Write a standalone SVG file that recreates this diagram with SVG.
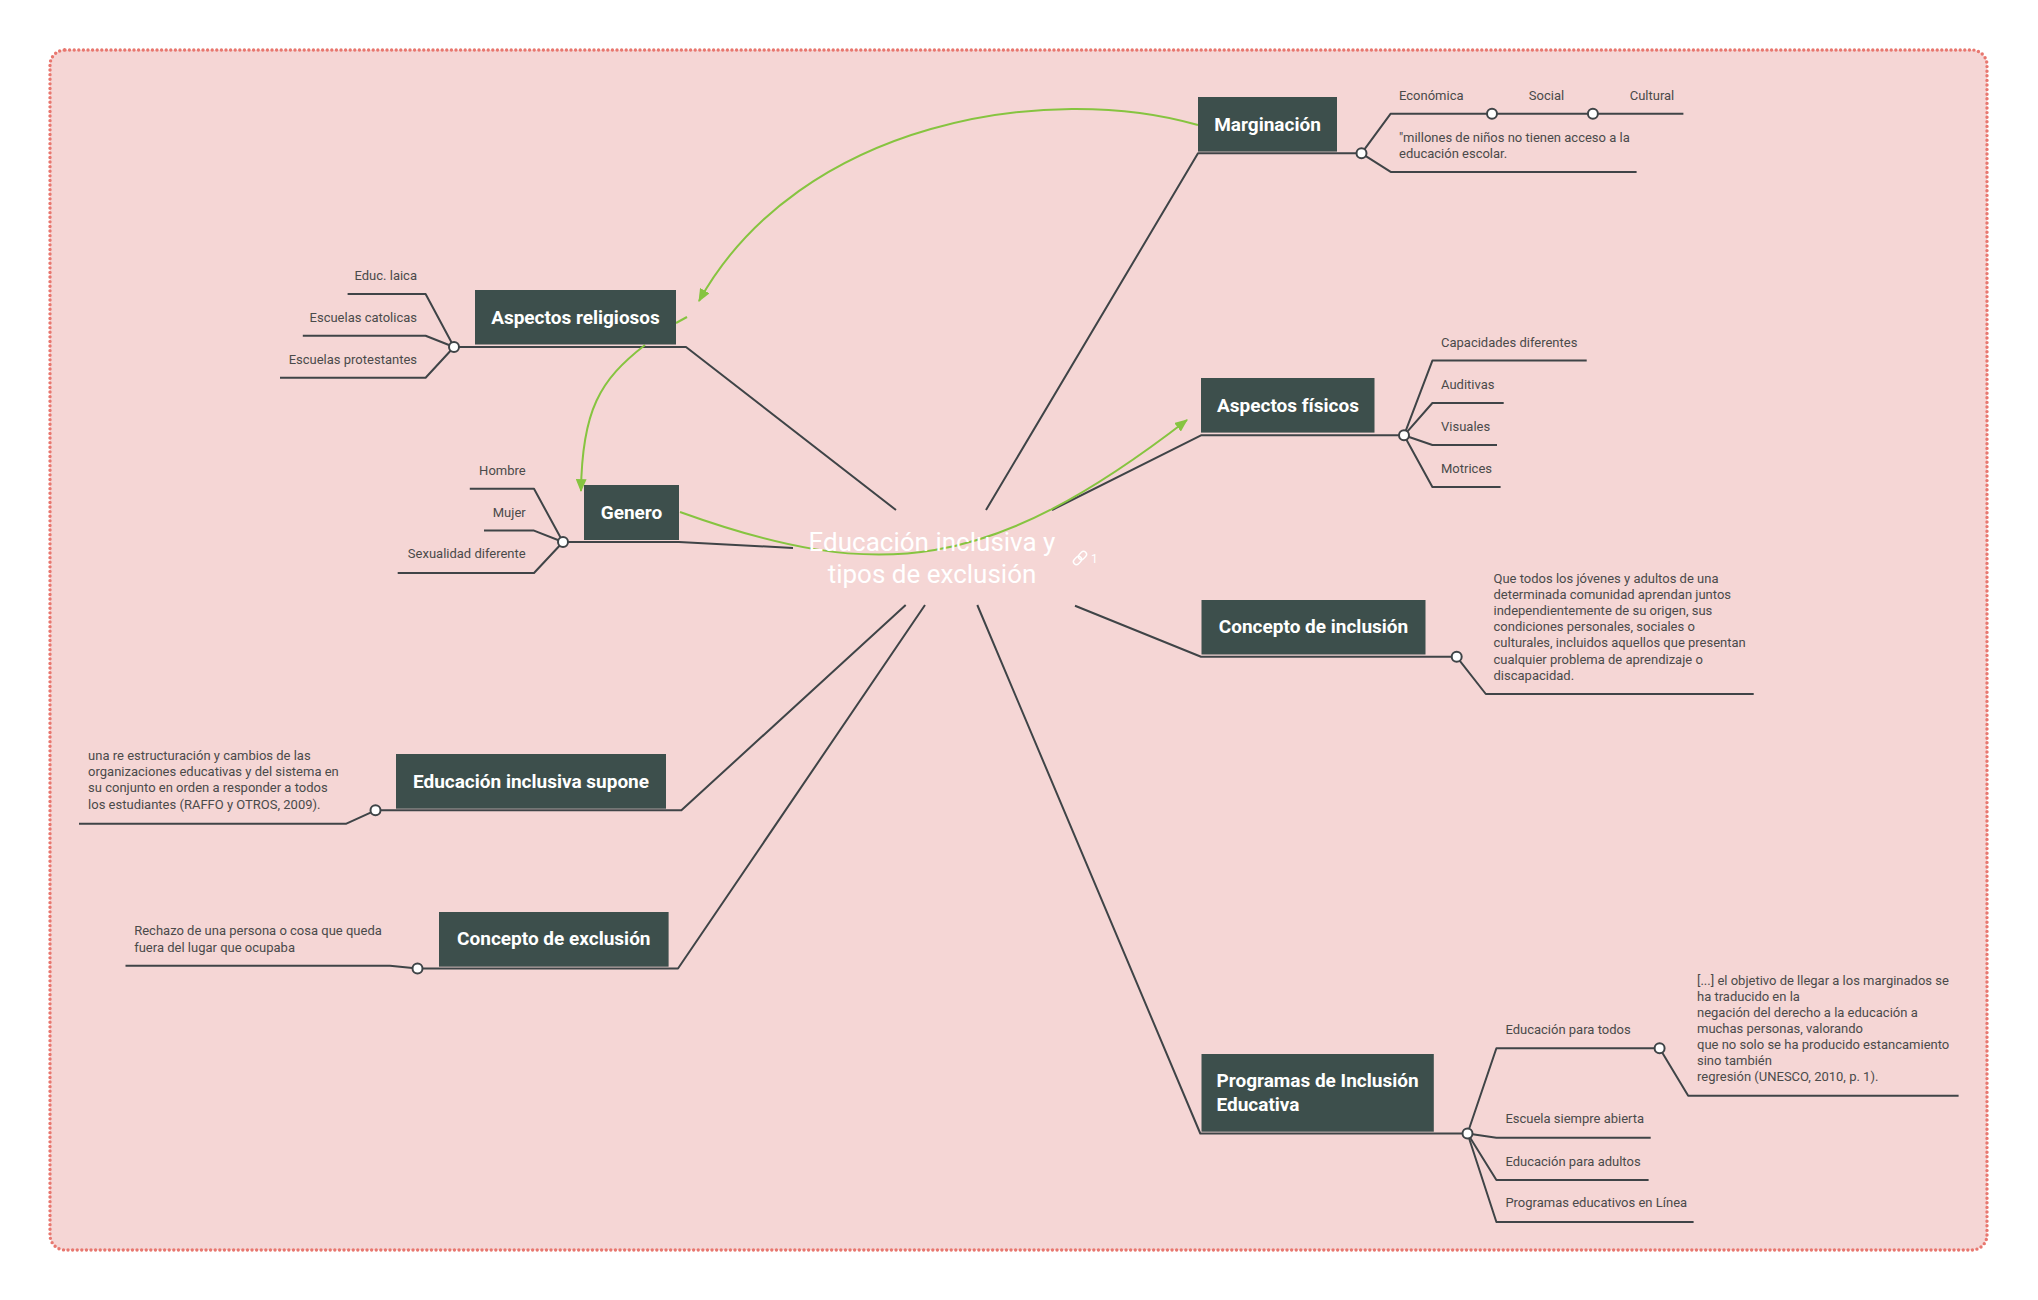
<svg xmlns="http://www.w3.org/2000/svg" width="2038" height="1300" viewBox="0 0 2038 1300">
<defs>
<style>
.bg{fill:#f5d6d5;stroke:#e8776f;stroke-width:3.4;stroke-dasharray:0 4.6;stroke-linecap:round}
.box{fill:#3d4f4c}
.nt{font-family:Roboto,"Liberation Sans",sans-serif;font-weight:bold;font-size:19px;fill:#ffffff}
.lt{font-family:Roboto,"Liberation Sans",sans-serif;font-size:13px;fill:#4a4a4a}
.ct{font-family:Roboto,"Liberation Sans",sans-serif;font-size:26px;fill:#ffffff}
.ln{fill:none;stroke:#3f4447;stroke-width:2;stroke-linejoin:round}
.dot{fill:#ffffff;stroke:#3f4447;stroke-width:2}
.rel{fill:none;stroke:#86c440;stroke-width:2}
</style>
<marker id="arr" viewBox="0 0 12 10" refX="11" refY="5" markerWidth="13" markerHeight="11" markerUnits="userSpaceOnUse" orient="auto">
<path d="M0,0 L12,5 L0,10 z" fill="#86c440"/>
</marker>
</defs>
<rect class="bg" x="50" y="50" width="1937" height="1200" rx="15"/>

<g id="connectors">
<path class="ln" d="M896,510 L686,347 L454,347"/>
<path class="ln" d="M793,548 L679,542 L563,542"/>
<path class="ln" d="M986,510 L1198,153.3 L1361.5,153.3"/>
<path class="ln" d="M1052,510 L1201,435.3 L1404,435.3"/>
<path class="ln" d="M1075,605.7 L1201,656.8 L1456.7,656.8"/>
<path class="ln" d="M977.3,605 L1200.3,1133.5 L1467.5,1133.5"/>
<path class="ln" d="M905.7,605 L681.4,810.3 L375.5,810.3"/>
<path class="ln" d="M925,605 L678,968.5 L417.5,968.5"/>

<path class="ln" d="M454,347 L425.6,294 L347.6,294"/>
<path class="ln" d="M454,347 L425.6,335.8 L302.8,335.8"/>
<path class="ln" d="M454,347 L425.6,377.7 L280,377.7"/>

<path class="ln" d="M563,542 L534,488.8 L469.8,488.8"/>
<path class="ln" d="M563,542 L534,530.6 L484,530.6"/>
<path class="ln" d="M563,542 L534,573 L397.7,573"/>

<path class="ln" d="M1361.5,153.3 L1390.7,113.7 L1683.4,113.7"/>
<path class="ln" d="M1361.5,153.3 L1390.7,171.9 L1636.6,171.9"/>

<path class="ln" d="M1404,435.3 L1432.4,360.6 L1586.7,360.6"/>
<path class="ln" d="M1404,435.3 L1432.4,403 L1503.7,403"/>
<path class="ln" d="M1404,435.3 L1432.4,445 L1497,445"/>
<path class="ln" d="M1404,435.3 L1432.4,487 L1500.6,487"/>

<path class="ln" d="M1456.7,656.8 L1485.8,694 L1753.7,694"/>

<path class="ln" d="M1467.5,1133.5 L1496.4,1048.3 L1659.6,1048.3"/>
<path class="ln" d="M1659.6,1048.3 L1688.2,1095.7 L1958.6,1095.7"/>
<path class="ln" d="M1467.5,1133.5 L1496.4,1137.7 L1650.7,1137.7"/>
<path class="ln" d="M1467.5,1133.5 L1496.4,1180 L1648.6,1180"/>
<path class="ln" d="M1467.5,1133.5 L1496.4,1222 L1693.6,1222"/>

<path class="ln" d="M375.5,810.3 L346.4,823.7 L79,823.7"/>
<path class="ln" d="M417.5,968.5 L390,965.7 L125.5,965.7"/>

<circle class="dot" cx="454" cy="347" r="5"/>
<circle class="dot" cx="563" cy="542" r="5"/>
<circle class="dot" cx="1361.5" cy="153.3" r="5"/>
<circle class="dot" cx="1492" cy="113.7" r="5"/>
<circle class="dot" cx="1592.9" cy="113.7" r="5"/>
<circle class="dot" cx="1404" cy="435.3" r="5"/>
<circle class="dot" cx="1456.7" cy="656.8" r="5"/>
<circle class="dot" cx="1467.5" cy="1133.5" r="5"/>
<circle class="dot" cx="1659.6" cy="1048.3" r="5"/>
<circle class="dot" cx="375.5" cy="810.3" r="5"/>
<circle class="dot" cx="417.5" cy="968.5" r="5"/>

<path class="rel" d="M1198,125 C1050,82 800,120 699,301" marker-end="url(#arr)"/>
<path class="rel" d="M676,323 L687,317"/>
<path class="rel" d="M645,345 C600,380 582,410 581,491" marker-end="url(#arr)"/>
<path class="rel" d="M680,512 C880,584 990,572 1187,420" marker-end="url(#arr)"/>
</g>

<g id="center">
<text class="ct" x="932" y="551" text-anchor="middle">Educación inclusiva y</text>
<text class="ct" x="932" y="583" text-anchor="middle">tipos de exclusión</text>
<g fill="none" stroke="#ffffff" stroke-width="1.4" transform="rotate(-45 1080 558)">
<rect x="1072" y="555" width="9" height="6" rx="3"/>
<rect x="1079" y="555" width="9" height="6" rx="3"/>
</g>
<text x="1091" y="563" font-family="Roboto,'Liberation Sans',sans-serif" font-size="12" fill="#ffffff">1</text>
</g>

<g id="n-religiosos">
<rect class="box" x="475" y="290" width="201" height="54.5"/>
<text class="nt" x="575.5" y="324" text-anchor="middle">Aspectos religiosos</text>
<text class="lt" x="417" y="280" text-anchor="end">Educ. laica</text>
<text class="lt" x="417" y="321.7" text-anchor="end">Escuelas catolicas</text>
<text class="lt" x="417" y="363.6" text-anchor="end">Escuelas protestantes</text>
</g>

<g id="n-genero">
<rect class="box" x="584" y="485" width="95" height="55"/>
<text class="nt" x="631.5" y="519" text-anchor="middle">Genero</text>
<text class="lt" x="525.7" y="474.7" text-anchor="end">Hombre</text>
<text class="lt" x="525.7" y="516.5" text-anchor="end">Mujer</text>
<text class="lt" x="525.7" y="558.4" text-anchor="end">Sexualidad diferente</text>
</g>

<g id="n-marginacion">
<rect class="box" x="1198" y="97" width="139" height="54.6"/>
<text class="nt" x="1267.5" y="131" text-anchor="middle">Marginación</text>
<text class="lt" x="1399" y="100.3">Económica</text>
<text class="lt" x="1528.8" y="100.3">Social</text>
<text class="lt" x="1629.7" y="100.3">Cultural</text>
<text class="lt" x="1399" y="142">"millones de niños no tienen acceso a la</text>
<text class="lt" x="1399" y="157.8">educación escolar.</text>
</g>

<g id="n-fisicos">
<rect class="box" x="1201" y="378" width="173.5" height="54.6"/>
<text class="nt" x="1288" y="412" text-anchor="middle">Aspectos físicos</text>
<text class="lt" x="1441" y="346.8">Capacidades diferentes</text>
<text class="lt" x="1441" y="388.9">Auditivas</text>
<text class="lt" x="1441" y="430.9">Visuales</text>
<text class="lt" x="1441" y="472.9">Motrices</text>
</g>

<g id="n-inclusion">
<rect class="box" x="1201.5" y="600" width="224" height="54.5"/>
<text class="nt" x="1313.5" y="633" text-anchor="middle">Concepto de inclusión</text>
<text class="lt" x="1493.5" y="583">Que todos los jóvenes y adultos de una</text>
<text class="lt" x="1493.5" y="599.1">determinada comunidad aprendan juntos</text>
<text class="lt" x="1493.5" y="615.2">independientemente de su origen, sus</text>
<text class="lt" x="1493.5" y="631.3">condiciones personales, sociales o</text>
<text class="lt" x="1493.5" y="647.4">culturales, incluidos aquellos que presentan</text>
<text class="lt" x="1493.5" y="663.5">cualquier problema de aprendizaje o</text>
<text class="lt" x="1493.5" y="679.6">discapacidad.</text>
</g>

<g id="n-programas">
<rect class="box" x="1201.5" y="1054" width="232.3" height="77.7"/>
<text class="nt" x="1216.5" y="1087">Programas de Inclusión</text>
<text class="nt" x="1216.5" y="1111">Educativa</text>
<text class="lt" x="1505.4" y="1033.5">Educación para todos</text>
<text class="lt" x="1505.4" y="1123">Escuela siempre abierta</text>
<text class="lt" x="1505.4" y="1165.5">Educación para adultos</text>
<text class="lt" x="1505.4" y="1207.3">Programas educativos en Línea</text>
<text class="lt" x="1697" y="984.5">[...] el objetivo de llegar a los marginados se</text>
<text class="lt" x="1697" y="1000.6">ha traducido en la</text>
<text class="lt" x="1697" y="1016.7">negación del derecho a la educación a</text>
<text class="lt" x="1697" y="1032.8">muchas personas, valorando</text>
<text class="lt" x="1697" y="1048.9">que no solo se ha producido estancamiento</text>
<text class="lt" x="1697" y="1065">sino también</text>
<text class="lt" x="1697" y="1081.1">regresión (UNESCO, 2010, p. 1).</text>
</g>

<g id="n-supone">
<rect class="box" x="396" y="754" width="270" height="54.7"/>
<text class="nt" x="531" y="787.5" text-anchor="middle">Educación inclusiva supone</text>
<text class="lt" x="88.1" y="760">una re estructuración y cambios de las</text>
<text class="lt" x="88.1" y="776.2">organizaciones educativas y del sistema en</text>
<text class="lt" x="88.1" y="792.4">su conjunto en orden a responder a todos</text>
<text class="lt" x="88.1" y="808.6">los estudiantes (RAFFO y OTROS, 2009).</text>
</g>

<g id="n-exclusion">
<rect class="box" x="439" y="912" width="229.6" height="54.7"/>
<text class="nt" x="553.8" y="945" text-anchor="middle">Concepto de exclusión</text>
<text class="lt" x="134.2" y="935">Rechazo de una persona o cosa que queda</text>
<text class="lt" x="134.2" y="951.5">fuera del lugar que ocupaba</text>
</g>
</svg>
